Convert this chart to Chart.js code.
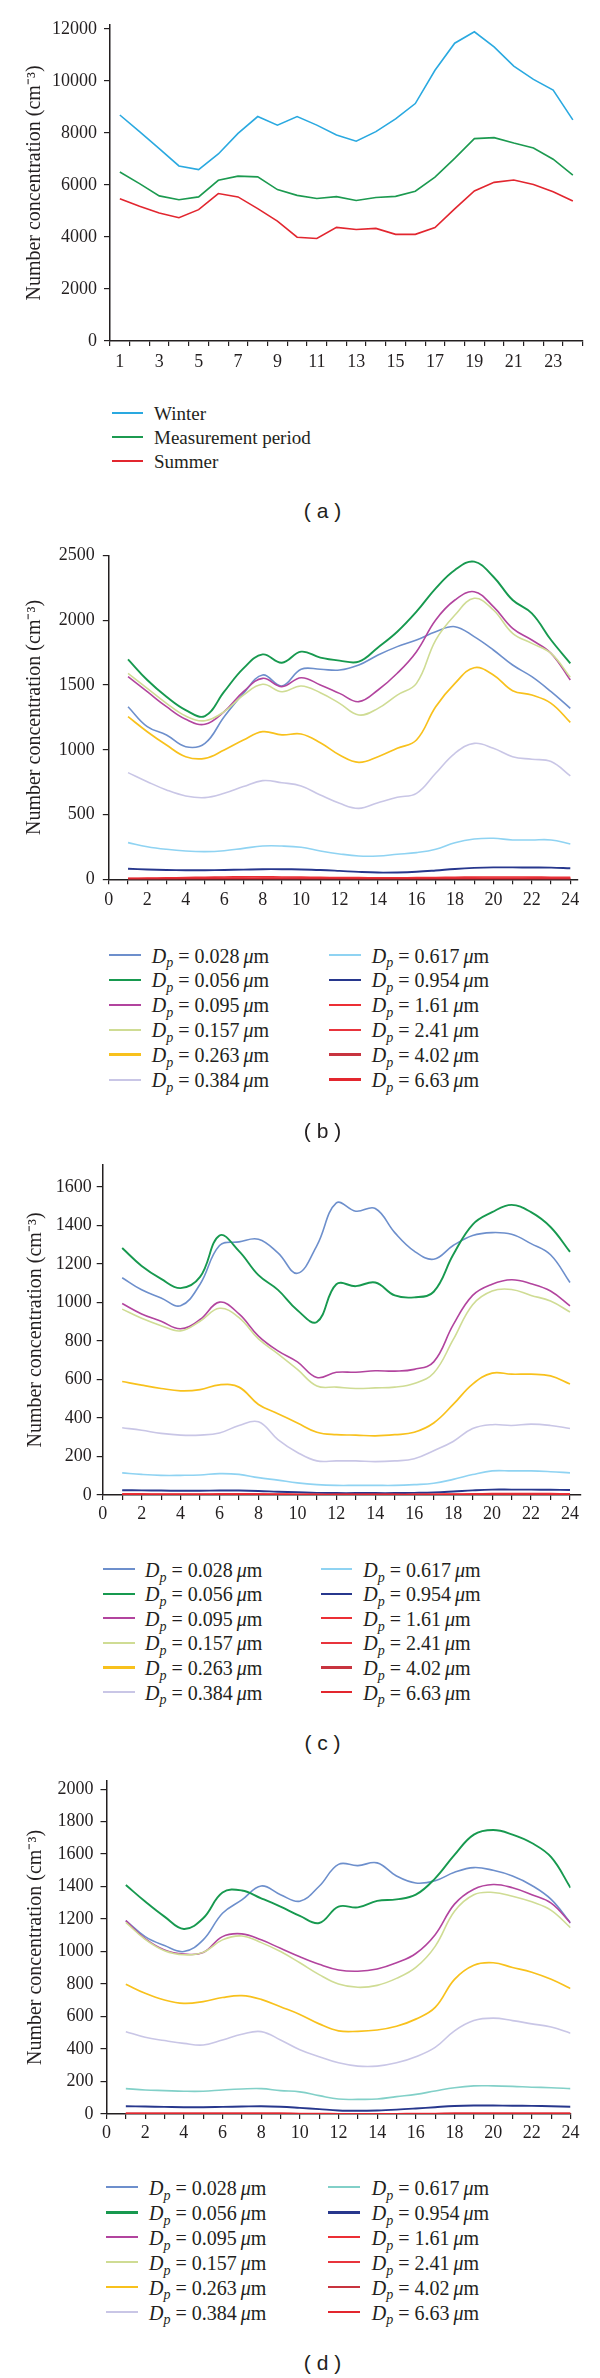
<!DOCTYPE html>
<html><head><meta charset="utf-8">
<script src="https://cdn.jsdelivr.net/npm/chart.js@4.4.1/dist/chart.umd.min.js"></script>
<style>
body{margin:0;background:#fff;}
#wrap{position:relative;width:600px;height:2378px;overflow:hidden;background:#fff;}
canvas{position:absolute;left:0;}
.txt{position:absolute;white-space:nowrap;font-family:"Liberation Serif","Times New Roman",serif;font-size:20px;line-height:20px;color:#231f20;}
.txt sub{font-size:70%;vertical-align:baseline;position:relative;top:0.35em;}
.sw{position:absolute;}
.cap{position:absolute;font-family:"Liberation Sans",Arial,sans-serif;font-size:21px;line-height:21px;color:#231f20;transform:translate(-50%,-50%);white-space:pre;}
</style></head>
<body><div id="wrap">
<canvas id="ca" width="600" height="400" style="top:0px"></canvas>
<canvas id="cb" width="600" height="400" style="top:530px"></canvas>
<canvas id="cc" width="600" height="400" style="top:1140px"></canvas>
<canvas id="cd" width="600" height="400" style="top:1760px"></canvas>
</div>
<script>
// ---------- DATA ----------
const HOURS = [1,2,3,4,5,6,7,8,9,10,11,12,13,14,15,16,17,18,19,20,21,22,23,24];
const A_SERIES = ['Winter','Measurement period','Summer'];
const winter = [8690,8050,7400,6730,6590,7190,7980,8630,8300,8630,8300,7920,7680,8050,8540,9130,10410,11450,11890,11310,10570,10060,9650,8500];
const measurement = [6500,6050,5580,5430,5540,6180,6340,6310,5820,5600,5480,5550,5400,5520,5560,5760,6300,7020,7780,7820,7610,7420,6990,6380];
const summer = [5470,5180,4920,4740,5050,5670,5540,5090,4610,3990,3940,4370,4290,4330,4100,4100,4360,5080,5770,6100,6190,6020,5740,5380];

const SIZES = ['0.028','0.056','0.095','0.157','0.263','0.384','0.617','0.954','1.61','2.41','4.02','6.63'];
const A_TICKS = [0,2000,4000,6000,8000,10000,12000];
const B_TICKS = [0,500,1000,1500,2000,2500];
const C_TICKS = [0,200,400,600,800,1000,1200,1400,1600];
const D_TICKS = [0,200,400,600,800,1000,1200,1400,1600,1800,2000];

// panel (b)
const b028 = [1333,1179,1115,1024,1050,1256,1436,1578,1493,1622,1622,1616,1655,1732,1797,1848,1912,1951,1874,1771,1655,1565,1449,1320];
const b056 = [1699,1539,1410,1307,1261,1449,1629,1737,1673,1758,1712,1689,1681,1791,1912,2067,2247,2389,2453,2337,2157,2054,1848,1668];
const b095 = [1565,1449,1333,1236,1197,1295,1449,1552,1488,1557,1501,1436,1372,1462,1591,1758,2003,2157,2221,2106,1938,1848,1745,1539];
const b157 = [1591,1475,1359,1261,1225,1295,1423,1506,1449,1493,1441,1359,1269,1320,1423,1513,1848,2041,2170,2080,1900,1822,1745,1560];
const b263 = [1256,1140,1037,947,934,999,1076,1140,1115,1122,1055,960,903,947,1012,1076,1333,1513,1634,1578,1457,1423,1359,1212];
const b384 = [824,754,690,644,631,664,716,762,746,721,651,587,548,592,633,664,819,973,1050,1012,947,927,909,798];
const b617 = [283,252,232,219,214,221,239,257,257,247,219,196,180,180,193,206,232,283,311,317,304,304,304,273];
const b954 = [82,76,72,70,70,72,75,78,78,76,72,65,57,52,53,58,68,80,88,92,92,91,90,85];
const b161 = [8,9,11,14,16,18,19,19,18,17,15,14,13,12,12,13,14,16,17,18,18,17,16,15];
const b241 = [5,6,7,8,9,10,10,10,10,9,8,8,7,7,7,7,8,9,10,10,10,10,9,9];
const b402 = [2,2,3,3,4,4,4,4,4,4,3,3,3,3,3,3,3,4,4,4,4,4,4,3];
const b663 = [1,1,1,1,2,2,2,2,2,1,1,1,1,1,1,1,1,1,2,2,2,2,1,1];

// panel (c)
const c028 = [1128,1065,1023,982,1094,1295,1314,1328,1257,1151,1295,1516,1473,1487,1362,1266,1224,1295,1347,1362,1353,1305,1247,1103];
const c056 = [1282,1189,1122,1074,1132,1347,1266,1141,1065,959,898,1094,1084,1103,1036,1026,1055,1247,1404,1468,1506,1468,1391,1262];
const c095 = [994,940,902,863,911,1001,940,825,748,691,610,637,637,645,643,652,691,883,1036,1094,1117,1097,1059,982];
const c157 = [965,917,879,852,902,969,921,810,733,652,566,560,553,556,560,579,633,806,988,1059,1067,1036,1007,950];
const c263 = [589,570,553,541,547,572,560,470,422,374,326,313,311,307,313,326,374,470,576,633,627,627,618,576];
const c384 = [349,336,320,311,311,322,361,380,288,221,177,177,177,173,177,188,230,278,345,365,361,368,361,345];
const c617 = [115,107,102,102,104,111,107,90,77,63,54,50,50,50,50,54,61,81,106,125,125,125,121,115];
const c954 = [25,24,23,22,22,23,23,21,17,14,11,10,10,10,10,11,13,18,24,28,28,28,27,26];
const c161 = [6,6,5,5,5,6,6,6,5,4,3,3,3,3,3,3,4,5,6,7,7,7,7,6];
const c241 = [3,3,3,3,3,3,3,3,3,2,2,2,2,2,2,2,2,3,3,4,4,4,4,3];
const c402 = [1,1,1,1,1,1,1,1,1,1,1,1,1,1,1,1,1,1,1,2,2,2,1,1];
const c663 = [1,1,1,0,0,1,1,1,0,0,0,0,0,0,0,0,0,0,1,1,1,1,1,1];

// panel (d)
const d028 = [1191,1092,1037,1000,1072,1236,1318,1404,1350,1310,1402,1537,1529,1546,1465,1422,1436,1488,1517,1500,1465,1407,1321,1176];
const d056 = [1410,1308,1215,1139,1205,1363,1376,1328,1277,1220,1176,1277,1272,1312,1321,1350,1451,1595,1720,1748,1720,1668,1581,1393];
const d095 = [1190,1080,1010,985,994,1092,1109,1072,1020,968,922,887,879,893,931,988,1104,1292,1384,1413,1393,1350,1298,1176];
const d157 = [1180,1075,1005,980,995,1072,1096,1055,1000,931,858,800,780,792,835,902,1032,1248,1350,1364,1341,1306,1254,1147];
const d263 = [799,743,702,681,692,717,729,706,660,613,555,512,509,517,540,584,656,829,916,931,902,873,829,772];
const d384 = [507,472,452,435,425,456,491,507,456,396,353,315,295,295,315,353,410,512,575,590,575,555,535,497];
const d617 = [156,148,144,140,140,148,154,156,144,136,113,92,90,92,107,121,142,162,173,173,170,165,162,156];
const d954 = [48,46,44,42,42,44,46,48,45,38,30,22,20,22,27,34,42,49,52,52,51,50,48,45];
const d161 = [4,4,4,4,4,4,4,4,4,3,3,2,2,2,2,3,3,4,4,5,5,5,4,4];
const d241 = [3,3,3,3,3,3,3,3,3,2,2,2,2,2,2,2,2,3,3,3,3,3,3,3];
const d402 = [2,2,2,2,2,2,2,2,2,1,1,1,1,1,1,1,1,2,2,2,2,2,2,2];
const d663 = [1,1,1,1,1,1,1,1,1,1,1,1,1,1,1,1,1,1,1,1,1,1,1,1];

// ---------- STYLE ----------
const INK = '#231f20';
const A_COLORS = ['#2aa9e0','#1c9a50','#e2262f'];
const SIZE_COLORS = ['#6d8fcc','#17994f','#b2449e','#cfdc94','#f8c11c','#c9c6e6','#8fd3f2','#27378d','#ec2f35','#e8343c','#c8343f','#e3262e'];
const SIZE_COLORS_D = SIZE_COLORS.slice(); SIZE_COLORS_D[6] = '#82d0c8';
const SIZE_WIDTHS = [1.6,1.9,1.6,1.6,1.7,1.6,1.6,1.9,1.6,1.6,1.8,1.8];
const LEG_WIDTHS = [2,2.6,2,2,2.6,2,2,2.6,2,2,2.6,2.6];
const SERIF = '"Liberation Serif","Times New Roman",serif';
Chart.defaults.font.family = SERIF;
Chart.defaults.color = INK;
const TITLE = 'Number concentration (cm\u207B\u00B3)';

function yScale(max, tickVals, width, pad, titlePad) {
  return {
    type: 'linear', min: 0, max: max,
    afterBuildTicks: s => { s.ticks = tickVals.map(v => ({ value: v })); },
    ticks: { padding: pad, font: { size: 18 }, color: INK, callback: v => String(v) },
    grid: { drawOnChartArea: false, drawTicks: true, tickLength: 6, color: INK, lineWidth: 1.2 },
    border: { display: true, color: INK, width: 1.5 },
    title: { display: true, text: TITLE, font: { size: 20 }, color: INK, padding: { top: titlePad, bottom: 0 } },
    afterFit: s => { s.width = width; }
  };
}
function xLinear(max, height, pad) {
  return {
    type: 'linear', min: 0, max: max,
    afterBuildTicks: s => { s.ticks = [0, ...HOURS].map(v => ({ value: v })); },
    ticks: { autoSkip: false, maxRotation: 0, padding: pad, font: { size: 18 }, color: INK,
      callback: v => (v % 2 === 0 ? String(v) : '') },
    grid: { drawOnChartArea: false, drawTicks: true, tickLength: 5, color: INK, lineWidth: 1.2 },
    border: { display: true, color: INK, width: 1.5 },
    afterFit: s => { s.height = height; }
  };
}
const commonPlugins = { legend: { display: false }, tooltip: { enabled: false } };

// ---------- PANEL (a) ----------
new Chart(document.getElementById('ca'), {
  type: 'line',
  data: {
    labels: HOURS.map(String),
    datasets: [winter, measurement, summer].map((arr, i) => ({
      label: A_SERIES[i], data: arr, borderColor: A_COLORS[i], borderWidth: 1.6,
      pointRadius: 0, tension: 0, fill: false
    }))
  },
  options: {
    responsive: false, animation: false,
    layout: { padding: { top: 25, right: 17.3, left: 0, bottom: 0 } },
    plugins: commonPlugins,
    scales: {
      x: {
        type: 'category', offset: true,
        ticks: { autoSkip: false, maxRotation: 0, padding: 5, font: { size: 18 }, color: INK,
          callback: (v, i) => (i % 2 === 0 ? String(HOURS[i]) : '') },
        grid: { offset: true, drawOnChartArea: false, drawTicks: true, tickLength: 5, color: INK, lineWidth: 1.2 },
        border: { display: true, color: INK, width: 1.5 },
        afterFit: s => { s.height = 59; }
      },
      y: yScale(12150, A_TICKS, 110, 7, 23)
    }
  }
});

// ---------- PANELS (b)-(d) ----------
function sizeChart(id, series, colors, ticks, opts) {
  new Chart(document.getElementById(id), {
    type: 'line',
    data: {
      datasets: series.map((arr, i) => ({
        label: 'Dp = ' + SIZES[i] + ' \u03BCm',
        data: HOURS.map((h, k) => ({ x: h, y: arr[k] })),
        borderColor: colors[i], borderWidth: SIZE_WIDTHS[i],
        pointRadius: 0, tension: 0.4, fill: false
      })).reverse()
    },
    options: {
      responsive: false, animation: false,
      layout: { padding: { top: opts.top, right: opts.right, left: 0, bottom: 0 } },
      plugins: commonPlugins,
      scales: {
        x: xLinear(opts.xmax, opts.xh, opts.xpad),
        y: yScale(opts.ymax, ticks, opts.yw, opts.ypad, opts.tpad)
      }
    }
  });
}
sizeChart('cb', [b028,b056,b095,b157,b263,b384,b617,b954,b161,b241,b402,b663], SIZE_COLORS, B_TICKS,
  { top: 25.6, right: 22, xmax: 24.4, xh: 50.7, xpad: 5, ymax: 2500, yw: 108.8, ypad: 8, tpad: 23 });
sizeChart('cc', [c028,c056,c095,c157,c263,c384,c617,c954,c161,c241,c402,c663], SIZE_COLORS, C_TICKS,
  { top: 25, right: 19.3, xmax: 24.55, xh: 45, xpad: 3.5, ymax: 1713, yw: 102.7, ypad: 5, tpad: 24 });
sizeChart('cd', [d028,d056,d095,d157,d263,d384,d617,d954,d161,d241,d402,d663], SIZE_COLORS_D, D_TICKS,
  { top: 21, right: 29.5, xmax: 24, xh: 46, xpad: 3, ymax: 2050, yw: 106.5, ypad: 7, tpad: 23.5 });

// ---------- LEGENDS & CAPTIONS (HTML text) ----------
const wrap = document.getElementById('wrap');
function addSwatch(x1, x2, yc, color, w) {
  const d = document.createElement('div');
  d.className = 'sw';
  d.style.left = x1 + 'px'; d.style.width = (x2 - x1) + 'px';
  d.style.top = (yc - w / 2) + 'px'; d.style.height = w + 'px';
  d.style.background = color;
  wrap.appendChild(d);
}
function addText(x, yc, html, size) {
  const s = document.createElement('div');
  s.className = 'txt';
  if (size) { s.style.fontSize = size + 'px'; s.style.lineHeight = size + 'px'; }
  s.style.left = x + 'px'; s.style.top = (yc - (size || 20) * 0.5) + 'px';
  s.innerHTML = html;
  wrap.appendChild(s);
}
function addCap(x, yc, t) {
  const c = document.createElement('div');
  c.className = 'cap'; c.style.left = x + 'px'; c.style.top = yc + 'px';
  c.textContent = t; wrap.appendChild(c);
}
// (a)
const legA = [412.7, 436.7, 460.7];
A_SERIES.forEach((name, i) => {
  addSwatch(111.7, 142.7, legA[i], A_COLORS[i], 1.8);
  addText(154, legA[i] + 1, name, 19);
});
function sizeLegend(y0, dy, c1, c2, colors) {
  SIZES.forEach((s, i) => {
    const col = i < 6 ? c1 : c2;
    const yc = y0 + dy * (i % 6);
    addSwatch(col[0], col[1], yc, colors[i], LEG_WIDTHS[i]);
    addText(col[2], yc + 0.5, '<i>D</i><sub><i>p</i></sub> = ' + s + '\u2009<i>\u03BC</i>m');
  });
}
sizeLegend(955, 24.9, [109.3, 140.7, 151.7], [329, 360.7, 371.7], SIZE_COLORS);
sizeLegend(1569.3, 24.55, [103.3, 135, 145], [320.7, 352.3, 363.3], SIZE_COLORS);
sizeLegend(2187.3, 24.95, [106, 138.3, 149], [327.7, 360, 371.7], SIZE_COLORS_D);
addCap(322.5, 510, '( a )');
addCap(322.5, 1130, '( b )');
addCap(322.5, 1742.3, '( c )');
addCap(322.5, 2361.7, '( d )');
</script>
</body></html>
